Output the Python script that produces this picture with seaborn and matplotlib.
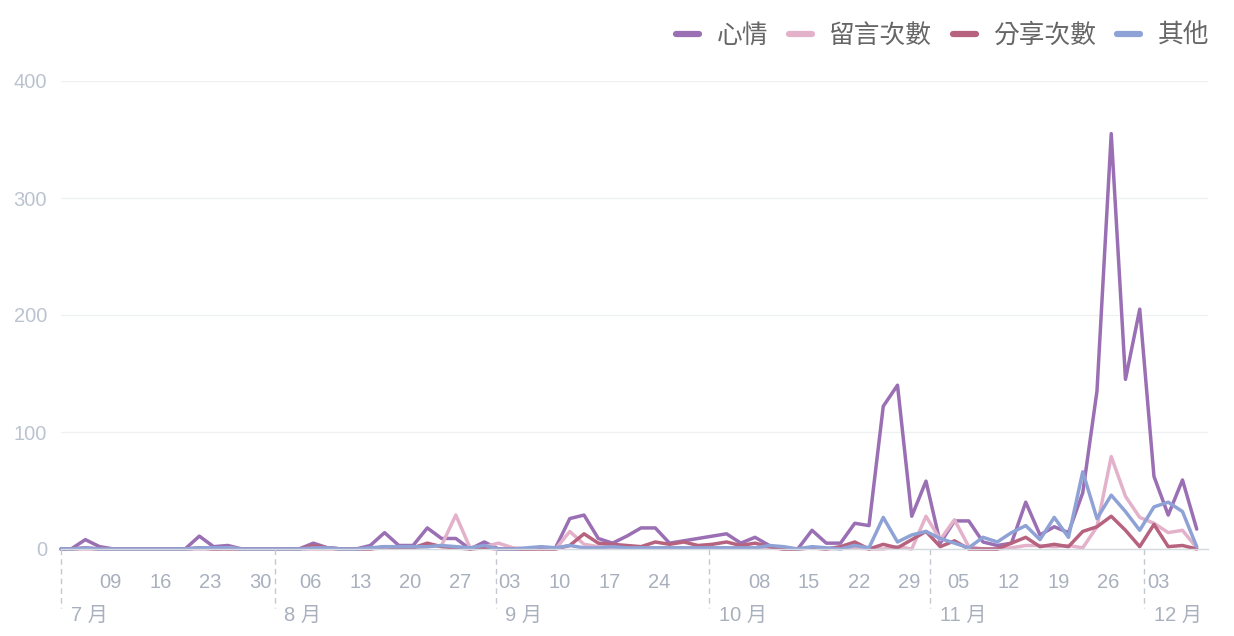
import matplotlib.pyplot as plt
import matplotlib.dates as mdates
import matplotlib.transforms as mtransforms
from matplotlib.lines import Line2D
import pandas as pd
import seaborn as sns

# every other day, plus the first day of the range
dates = [pd.Timestamp('2023-07-02')] + list(pd.date_range('2023-07-03 10:00', periods=80, freq='2D'))

series_names = ['心情', '留言次數', '分享次數', '其他']

mood = [0, 0, 8, 2, 0, 0, 0, 0, 0, 0,
        11, 2, 3, 0, 0, 0, 0, 0, 5, 1,
        0, 0, 3, 14, 3, 3, 18, 9, 9, 0,
        6, 0, 0, 0, 1, 1, 26, 29, 9, 5,
        11, 18, 18, 5, 7, 9, 11, 13, 5, 10,
        3, 0, 0, 16, 5, 5, 22, 20, 122, 140,
        28, 58, 5, 24, 24, 6, 3, 5, 40, 12,
        19, 14, 48, 135, 355, 145, 205, 62, 29, 59,
        17]
comments = [0, 0, 0, 0, 0, 0, 0, 0, 0, 0,
            0, 0, 1, 0, 0, 0, 0, 0, 0, 0,
            0, 0, 0, 1, 1, 1, 2, 3, 29, 1,
            2, 5, 1, 0, 0, 0, 15, 4, 2, 1,
            1, 1, 1, 1, 1, 1, 1, 1, 1, 1,
            1, 0, 0, 1, 0, 1, 1, 0, 0, 2,
            0, 28, 8, 25, 2, 0, 0, 1, 3, 3,
            2, 3, 1, 19, 79, 45, 27, 22, 14, 16,
            1]
shares = [0, 0, 1, 0, 0, 0, 0, 0, 0, 0,
          1, 0, 0, 0, 0, 0, 0, 0, 3, 1,
          0, 0, 0, 2, 1, 1, 5, 2, 1, 0,
          1, 0, 0, 0, 0, 0, 3, 13, 5, 4,
          3, 2, 6, 4, 6, 3, 4, 6, 3, 5,
          2, 0, 0, 1, 0, 2, 6, 0, 4, 1,
          8, 15, 2, 7, 0, 0, 0, 5, 10, 2,
          4, 2, 15, 19, 28, 16, 2, 21, 2, 3,
          0]
others = [0, 0, 1, 0, 0, 0, 0, 0, 0, 0,
          1, 1, 1, 0, 0, 0, 0, 0, 1, 1,
          0, 0, 1, 2, 2, 2, 2, 3, 2, 1,
          3, 0, 0, 1, 2, 1, 3, 1, 1, 2,
          1, 1, 1, 1, 1, 1, 1, 1, 1, 1,
          3, 2, 0, 2, 1, 0, 3, 1, 27, 6,
          12, 15, 9, 5, 1, 10, 6, 14, 20, 8,
          27, 10, 66, 26, 46, 32, 16, 36, 40, 32,
          2]

colors = ['#9a6fb3', '#e3b2ca', '#b7627f', '#8fa2d6']

week_ticks = [d for d in pd.date_range('2023-07-09', '2023-12-03', freq='7D')
              if d != pd.Timestamp('2023-10-01')]
month_starts = pd.to_datetime(['2023-07-02', '2023-08-01', '2023-09-01',
                               '2023-10-01', '2023-11-01', '2023-12-01'])
month_labels = ['7 月', '8 月', '9 月', '10 月', '11 月', '12 月']
y_ticks = [0, 100, 200, 300, 400]

df = pd.DataFrame({'date': dates, '心情': mood, '留言次數': comments,
                   '分享次數': shares, '其他': others})
long_df = df.melt(id_vars='date', var_name='type', value_name='count')

sns.set_style('white')
plt.rcParams['font.family'] = ['Liberation Sans', 'Noto Sans CJK TC', 'DejaVu Sans']

fig = plt.figure(figsize=(12.34, 6.36), dpi=100)
ax = fig.add_axes([61 / 1234, 87 / 636, (1208 - 61) / 1234, (549 - 81) / 636])

palette = dict(zip(series_names, colors))
sns.lineplot(data=long_df, x='date', y='count', hue='type', hue_order=series_names,
             palette=palette, linewidth=2.5, ax=ax, legend=False)
for line in ax.lines:
    line.set_clip_on(False)

ax.set_xlim(pd.Timestamp('2023-07-02'), pd.Timestamp('2023-12-10'))
ax.set_ylim(0, 400)
ax.set_xlabel('')
ax.set_ylabel('')

for s in ['top', 'right', 'left']:
    ax.spines[s].set_visible(False)
ax.spines['bottom'].set_color('#d5d9e0')
ax.spines['bottom'].set_linewidth(1)

ax.set_yticks(y_ticks)
ax.yaxis.grid(True, color='#eef0f3', linewidth=1)
ax.set_axisbelow(True)
ax.tick_params(axis='y', length=0, pad=10, labelcolor='#bcc3d0', labelsize=14.5)

xt = week_ticks + [pd.Timestamp('2023-12-10')]
ax.set_xticks(xt)
ax.set_xticklabels([d.strftime('%d') for d in week_ticks] + [''])
ax.tick_params(axis='x', length=6, color='#c8ccd4', pad=11,
               labelcolor='#a9b0bd', labelsize=14.5)

# month separators and labels under the week ticks
trans = mtransforms.blended_transform_factory(ax.transData, ax.transAxes)
for m, lab in zip(month_starts, month_labels):
    mx = mdates.date2num(m)
    ax.plot([mx, mx], [0, -0.125], transform=trans, color='#c3c7cf', lw=1,
            dashes=(4, 3), clip_on=False)
    ax.annotate(lab, xy=(mx, 0), xycoords=trans, xytext=(7, -48),
                textcoords='offset points', ha='left', va='center',
                fontsize=14.5, color='#a9b0bd')

handles = [Line2D([0], [0], color=c, lw=4.5, solid_capstyle='round') for c in colors]
ax.legend(handles, series_names, loc='upper right', ncol=4, frameon=False,
          bbox_to_anchor=(1222 / 1234, 1 - 10 / 636), bbox_transform=fig.transFigure,
          handlelength=0.9, handletextpad=0.68, columnspacing=0.8, borderpad=0,
          prop={'family': ['Noto Sans CJK TC'], 'size': 18.5}, labelcolor='#666666')

fig.savefig('out.png', dpi=100)
